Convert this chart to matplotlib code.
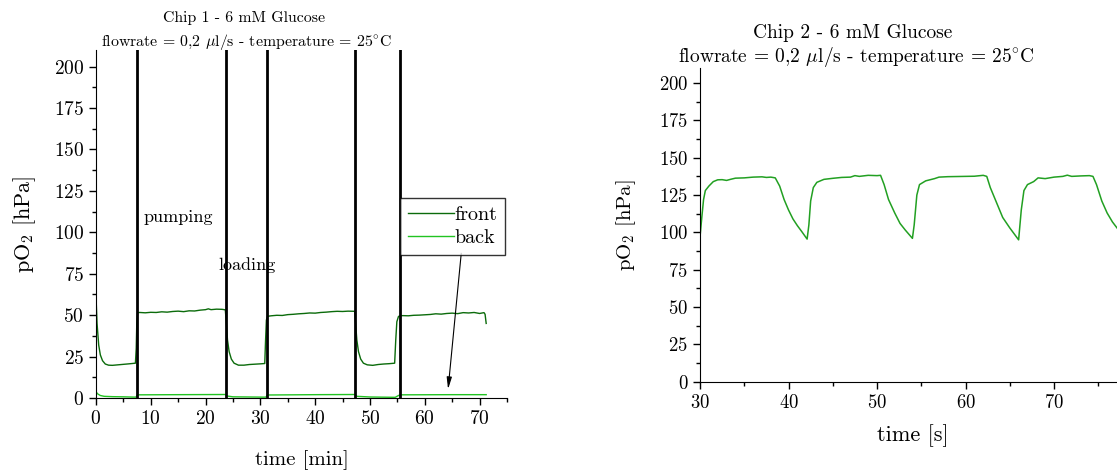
import matplotlib
matplotlib.use("Agg")
import matplotlib.pyplot as plt
from matplotlib.ticker import MultipleLocator

plt.rcParams['font.family'] = ['cmr10', 'DejaVu Serif']
plt.rcParams['mathtext.fontset'] = 'cm'
plt.rcParams['axes.formatter.use_mathtext'] = True

# chip 1 - front sensor (time in min, pO2 in hPa)
front_t = [0.0, 0.2, 0.5, 0.8, 1.2, 1.7, 2.3, 3, 4, 5, 6, 7.2, 7.35, 7.45, 7.6,
           8, 9, 10, 11, 12, 13, 14, 15, 16, 17, 18, 19, 20, 20.5, 21, 22, 23, 23.6,
           23.8, 24, 24.3, 24.7, 25.2, 26, 27, 28, 29, 30, 30.8, 30.95, 31.1, 31.3,
           32, 33, 34, 35, 36, 37, 38, 39, 40, 41, 42, 43, 44, 45, 46, 47.2,
           47.4, 47.6, 47.9, 48.3, 48.8, 49.5, 50.5, 51.5, 52.5, 53.5, 54.5, 54.7, 54.9, 55.2, 55.5,
           56, 57, 58, 59, 60, 61, 62, 63, 64, 65, 66, 67, 68, 69, 70, 70.8, 71.0, 71.2]
front_v = [62, 45, 32, 26, 22.5, 20.5, 19.8, 19.7, 20, 20.3, 20.6, 21, 30, 45, 51.5,
           51.6, 51.4, 51.7, 51.6, 52, 51.8, 52.2, 52.4, 52.1, 52.6, 52.5, 53, 53.3, 53.8, 53.3, 53.6, 53.5, 53.2,
           45, 35, 28, 23.5, 21, 19.8, 19.8, 20.2, 20.4, 20.6, 20.8, 35, 47, 49.3,
           49.6, 49.9, 49.8, 50.3, 50.5, 50.8, 51, 51.3, 51.2, 51.6, 51.8, 52.1, 52.3, 52.2, 52.4, 52.3,
           44, 35, 28, 23.5, 21, 20, 19.7, 20.2, 20.5, 20.7, 21, 35, 46, 49.2, 49.6,
           49.7, 49.6, 49.9, 50, 50.2, 50.4, 50.8, 50.6, 51, 51.2, 50.9, 51.5, 51.3, 51.6, 51, 51.5, 50.5, 45]

# chip 1 - back sensor
back_t = [0, 0.3, 0.8, 1.5, 3, 5, 7.3, 7.5, 7.8, 15, 23.6, 23.9, 25, 31, 31.3, 40,
          47.3, 47.6, 50, 54.6, 55.2, 55.6, 65, 71.2]
back_v = [3.8, 2.5, 1.5, 1.0, 0.8, 0.7, 0.5, 1.5, 1.9, 2.0, 2.1, 1.2, 0.7, 0.5, 1.8, 2.0,
          2.1, 1.0, 0.6, 0.4, 1.5, 1.9, 2.0, 2.0]

# switching times (pumping / loading)
switch_t = [7.4, 23.7, 31.3, 47.3, 55.5]

# chip 2 (time in s)
chip2_t = [30.0, 30.2, 30.4, 30.6, 31.0, 31.5, 32, 32.5, 33, 33.5, 34, 35, 36, 37, 37.5, 38, 38.5,
           39, 39.5, 40, 40.5, 41, 41.5, 42.1, 42.3, 42.5, 42.8, 43.2, 44, 45, 46, 47, 47.5, 48, 49,
           50, 50.4, 50.8, 51.3, 52, 52.6, 53.2, 54.0, 54.2, 54.5, 54.8, 55.5, 56.5, 57, 58, 59, 60,
           61, 62, 62.4, 62.8, 63.5, 64.2, 65, 66.0, 66.3, 66.6, 67, 67.7, 68.2, 69, 70, 71, 71.5,
           72, 73, 74, 74.4, 74.8, 75.4, 76, 76.6, 77.5]
chip2_v = [97, 110, 122, 128, 131, 134, 135.2, 135.3, 134.8, 135.6, 136.3, 136.5, 137, 137.2, 136.8, 137, 136.5,
           131, 122, 115, 109, 104.5, 100.5, 95.5, 105, 121, 130, 133.5, 135.5, 136.2, 136.8, 137, 138, 137.5, 138.2,
           138, 138.2, 132, 122, 113, 106, 101.5, 96, 105, 125, 132, 134.5, 136, 137, 137.3, 137.4, 137.5,
           137.6, 138.2, 137.5, 130, 120, 110, 103, 95, 115, 128, 132, 134, 136.5, 136, 137, 137.5, 138.3,
           137.5, 137.8, 138, 137.5, 132, 121, 113, 107, 100]

subtitle = r'flowrate = 0,2 $\mu$l/s - temperature = 25$^{\circ}$C'

fig = plt.figure(figsize=(11.17, 4.73), dpi=100)


def style_axes(ax, size):
    ax.spines['top'].set_visible(False)
    ax.spines['right'].set_visible(False)
    ax.yaxis.set_major_locator(MultipleLocator(25))
    ax.yaxis.set_minor_locator(MultipleLocator(12.5))
    ax.xaxis.set_major_locator(MultipleLocator(10))
    ax.xaxis.set_minor_locator(MultipleLocator(5))
    ax.tick_params(which='major', direction='out', length=5, width=1, labelsize=size)
    ax.tick_params(which='minor', direction='out', length=3, width=1)


# left panel
ax1 = fig.add_axes([0.0859, 0.1586, 0.368, 0.7357])
style_axes(ax1, 14)
ax1.plot(front_t, front_v, color='#0b6b0b', lw=1, label='front')
ax1.plot(back_t, back_v, color='#22c322', lw=1, label='back')
for t in switch_t:
    ax1.axvline(t, color='black', lw=2)
ax1.set_xlim(0, 75)
ax1.set_ylim(0, 210)
ax1.set_xlabel('time [min]', fontsize=15, labelpad=16)
ax1.set_ylabel(r'pO$_2$ [hPa]', fontsize=16, labelpad=11)
ax1.text(15.05, 109, 'pumping', fontsize=13, ha='center', va='center')
ax1.text(27.6, 80, 'loading', fontsize=13, ha='center', va='center')
ax1.annotate('', xy=(64.2, 3.6), xytext=(66.7, 89),
             arrowprops=dict(arrowstyle='-|>,head_width=0.15,head_length=0.7', color='black', lw=0.8))
leg = ax1.legend(loc='upper left', bbox_to_anchor=(0.739, 0.575), fontsize=14.5, frameon=True,
                 fancybox=False, edgecolor='black', handlelength=2.3, handletextpad=0,
                 borderpad=0.4, labelspacing=0.25, borderaxespad=0)
leg.get_frame().set_linewidth(1)
fig.text(244 / 1117, 1 - 18 / 473, 'Chip 1 - 6 mM Glucose', fontsize=11.4, ha='center', va='center')
fig.text(246 / 1117, 1 - 42 / 473, subtitle, fontsize=11.4, ha='center', va='center')

# right panel (runs past the right edge of the figure)
ax2 = fig.add_axes([0.6267, 0.193, 0.3803, 0.663])
style_axes(ax2, 13.5)
ax2.plot(chip2_t, chip2_v, color='#22a022', lw=1.1)
ax2.set_xlim(30, 78)
ax2.set_ylim(0, 210)
ax2.set_xlabel('time [s]', fontsize=16, labelpad=9)
ax2.set_ylabel(r'pO$_2$ [hPa]', fontsize=15, labelpad=15)
fig.text(853 / 1117, 1 - 33 / 473, 'Chip 2 - 6 mM Glucose', fontsize=14, ha='center', va='center')
fig.text(856 / 1117, 1 - 57 / 473, subtitle, fontsize=14, ha='center', va='center')

fig.savefig('out.png', dpi=100)
